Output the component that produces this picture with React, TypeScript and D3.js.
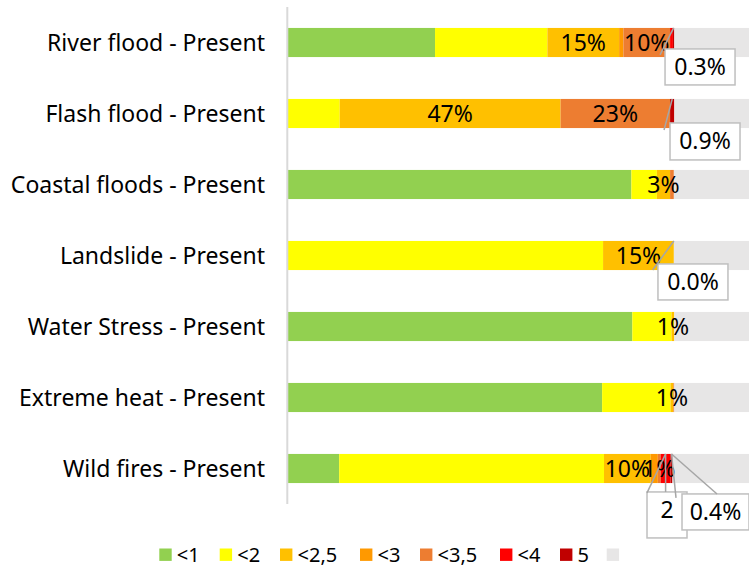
import * as d3 from 'd3';
import React, { useEffect, useRef } from 'react';

const WIDTH = 749;
const HEIGHT = 565;
const FONT = '"Noto Sans", "Open Sans", sans-serif';

const categories = [
  'River flood - Present',
  'Flash flood - Present',
  'Coastal floods - Present',
  'Landslide - Present',
  'Water Stress - Present',
  'Extreme heat - Present',
  'Wild fires - Present',
];

const seriesNames = ['<1', '<2', '<2,5', '<3', '<3,5', '<4', '5', ''];
const seriesColors = ['#92D050', '#FFFF00', '#FFC000', '#FF9900', '#ED7D31', '#FF0000', '#C00000', '#E7E6E6'];

// percent of assets per risk class
const lessThan1 = [31.3, 0, 72.9, 0, 73.1, 66.7, 11.0];
const lessThan2 = [23.8, 11.1, 5.4, 66.9, 8.3, 14.5, 56.1];
const lessThan25 = [15.2, 46.8, 2.8, 15.0, 0.6, 0.6, 9.9];
const lessThan3 = [0.9, 0, 0, 0, 0, 0, 1.5];
const lessThan35 = [9.9, 23.2, 0.8, 0, 0, 0.2, 0.6];
const lessThan4 = [0.6, 0, 0, 0, 0, 0, 2.1];
const five = [0.3, 0.9, 0, 0.0, 0, 0, 0.4];
const noData = [18.1, 18.0, 18.1, 18.1, 18.0, 18.0, 18.4];

const seriesValues = [lessThan1, lessThan2, lessThan25, lessThan3, lessThan35, lessThan4, five, noData];

// [category, series] of the labels drawn inside the bars
const inlineLabels = [
  [0, 2], [0, 4], [1, 2], [1, 4], [2, 2], [3, 2], [4, 2], [5, 2], [6, 2], [6, 4],
];

// labels shown in callout boxes
const calloutLabels = [
  { cat: 0, series: 6, text: '0.3%' },
  { cat: 1, series: 6, text: '0.9%' },
  { cat: 3, series: 6, text: '0.0%' },
  { cat: 6, series: 5, text: '2' },
  { cat: 6, series: 6, text: '0.4%' },
];

// callout box placement relative to the segment top
const calloutLayout = [
  { dx: -8.6, dy: 21, w: 70, h: 36, leaders: [[-13.6, 27]] },
  { dx: -2.2, dy: 24, w: 70, h: 37, leaders: [[-8.2, 31]] },
  { dx: -15.9, dy: 23, w: 70, h: 36, leaders: [[-21.2, 29]] },
  { dx: -18.6, dy: 38, w: 40, h: 46, leaders: [[-18.6, 39], [0, 38]] },
  { dx: 10.5, dy: 40, w: 67, h: 36, leaders: [[45.5, 40], [4.5, 44]] },
];

const legendSteps = [60.4, 60.3, 80, 60, 80, 60, 46.7];

const margin = { top: 7, left: 287.3, bottom: 61 };

const Chart: React.FC = () => {
  const ref = useRef<SVGSVGElement>(null);

  useEffect(() => {
    const svg = d3.select(ref.current);
    svg.selectAll('*').remove();

    const x = d3.scaleLinear().domain([0, 100]).range([margin.left, margin.left + 472]);
    const y = d3
      .scaleBand()
      .domain(categories)
      .range([margin.top, HEIGHT - margin.bottom])
      .paddingInner(0.59)
      .paddingOuter(0.295);

    const rows = categories.map((cat, i) => {
      let acc = 0;
      return seriesValues.map((vals, s) => {
        const start = acc;
        acc += vals[i];
        return { cat, i, s, start, end: acc, value: vals[i] };
      });
    });

    const chart = svg.append('g');

    chart
      .selectAll('g.row')
      .data(rows)
      .enter()
      .append('g')
      .attr('class', 'row')
      .selectAll('rect')
      .data(d => d.filter(seg => seg.value > 0))
      .enter()
      .append('rect')
      .attr('x', d => x(d.start))
      .attr('y', d => y(d.cat) as number)
      .attr('width', d => x(d.end) - x(d.start))
      .attr('height', y.bandwidth())
      .attr('fill', d => seriesColors[d.s]);

    // vertical axis line
    chart
      .append('line')
      .attr('x1', margin.left)
      .attr('x2', margin.left)
      .attr('y1', margin.top)
      .attr('y2', HEIGHT - margin.bottom)
      .attr('stroke', '#D9D9D9')
      .attr('stroke-width', 2);

    // category labels
    chart
      .selectAll('text.cat')
      .data(categories)
      .enter()
      .append('text')
      .attr('class', 'cat')
      .attr('x', 265)
      .attr('y', d => (y(d) as number) + y.bandwidth() / 2)
      .attr('dy', '0.36em')
      .attr('text-anchor', 'end')
      .style('font-family', FONT)
      .style('font-size', '23px')
      .attr('fill', '#000')
      .text(d => d);

    const pct0 = d3.format('.0%');

    chart
      .selectAll('text.val')
      .data(inlineLabels)
      .enter()
      .append('text')
      .attr('class', 'val')
      .attr('x', ([c, s]) => x((rows[c][s].start + rows[c][s].end) / 2))
      .attr('y', ([c]) => (y(categories[c]) as number) + y.bandwidth() / 2)
      .attr('dy', '0.36em')
      .attr('text-anchor', 'middle')
      .style('font-family', FONT)
      .style('font-size', '23px')
      .attr('fill', '#000')
      .text(([c, s]) => pct0(rows[c][s].value / 100));

    // callouts
    const callouts = calloutLabels.map((lab, k) => {
      const seg = rows[lab.cat][lab.series];
      return {
        ...lab,
        ax: x((seg.start + seg.end) / 2),
        ay: y(categories[lab.cat]) as number,
        layout: calloutLayout[k],
      };
    });

    const boxes = chart.selectAll('g.callout').data(callouts).enter().append('g').attr('class', 'callout');
    boxes
      .append('rect')
      .attr('x', d => d.ax + d.layout.dx)
      .attr('y', d => d.ay + d.layout.dy)
      .attr('width', d => d.layout.w)
      .attr('height', d => d.layout.h)
      .attr('fill', '#fff')
      .attr('stroke', '#BFBFBF')
      .attr('stroke-width', 1.5);
    boxes
      .append('text')
      .attr('x', d => d.ax + d.layout.dx + d.layout.w / 2)
      .attr('y', d => d.ay + d.layout.dy + Math.min(d.layout.h, 36) / 2)
      .attr('dy', '0.36em')
      .attr('text-anchor', 'middle')
      .style('font-family', FONT)
      .style('font-size', '23px')
      .attr('fill', '#000')
      .text(d => d.text);

    callouts.forEach(c => {
      c.layout.leaders.forEach(([lx, ly]) => {
        chart
          .append('line')
          .attr('x1', c.ax)
          .attr('y1', c.ay)
          .attr('x2', c.ax + lx)
          .attr('y2', c.ay + ly)
          .attr('stroke', '#A6A6A6')
          .attr('stroke-width', 1.5);
      });
    });

    // legend
    const legendX = seriesNames.map((_, i) => 159.3 + d3.sum(legendSteps.slice(0, i)));
    const legend = svg
      .append('g')
      .selectAll('g')
      .data(seriesNames)
      .enter()
      .append('g')
      .attr('transform', (_, i) => `translate(${legendX[i]},548.5)`);
    legend
      .append('rect')
      .attr('width', 12.4)
      .attr('height', 12.4)
      .attr('fill', (_, i) => seriesColors[i]);
    legend
      .append('text')
      .attr('x', 17.5)
      .attr('y', 6.2)
      .attr('dy', '0.36em')
      .style('font-family', FONT)
      .style('font-size', '20px')
      .attr('fill', '#000')
      .text(d => d);
  }, []);

  return (
    <svg
      ref={ref}
      width={WIDTH}
      height={HEIGHT}
      style={{ position: 'absolute', left: 0, top: 0, background: '#fff', overflow: 'hidden' }}
    />
  );
};

export default function App() {
  return <Chart />;
}
